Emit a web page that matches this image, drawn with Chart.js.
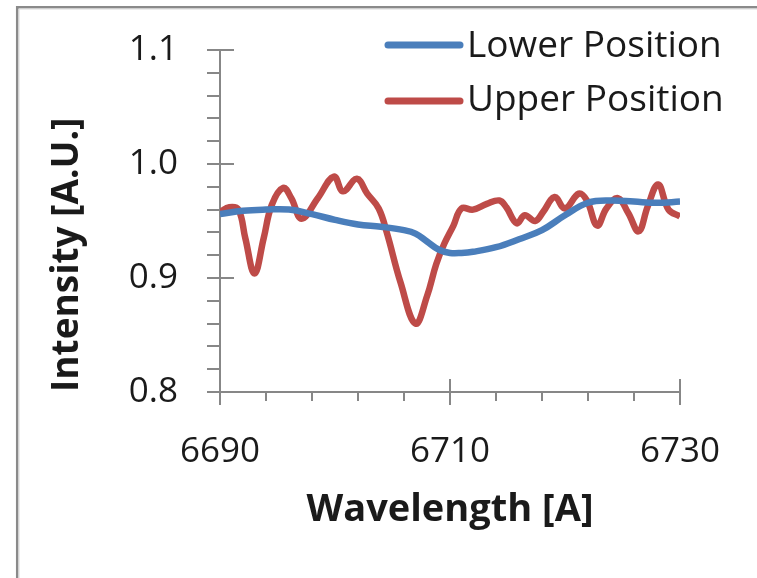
<!DOCTYPE html>
<html>
<head>
<meta charset="utf-8">
<script src="https://cdn.jsdelivr.net/npm/chart.js@4/dist/chart.umd.min.js"></script>
<style>
  html, body { margin: 0; padding: 0; background: #ffffff; }
  #wrap { width: 757px; height: 578px; }
</style>
</head>
<body>
<div id="wrap"><canvas id="chart" width="757" height="578"></canvas></div>
<script>
// Spectral profiles around the 6708 A line
const seriesNames = ['Lower Position', 'Upper Position'];
const seriesColors = ['#4a7ebb', '#be4b48'];

const lowerWavelength = [6690, 6692, 6694, 6696, 6698, 6700, 6702, 6704, 6706, 6707, 6708, 6709, 6710, 6711, 6712, 6714, 6716, 6718, 6720, 6722, 6724, 6726, 6728, 6730];
const lowerIntensity  = [0.956, 0.959, 0.960, 0.960, 0.956, 0.951, 0.947, 0.945, 0.942, 0.939, 0.932, 0.925, 0.922, 0.922, 0.923, 0.927, 0.934, 0.942, 0.955, 0.966, 0.968, 0.967, 0.966, 0.967];

const upperWavelength = [6690, 6690.8, 6691.6, 6692.2, 6693, 6693.8, 6694.5, 6695.5, 6696.2, 6697.1, 6698.5, 6699.9, 6700.7, 6701.9, 6702.8, 6703.8, 6704.5, 6705.7, 6707, 6708, 6708.8, 6709.5, 6710.3, 6711, 6712, 6713.2, 6714.3, 6714.9, 6715.8, 6716.5, 6717.4, 6718.1, 6719.1, 6720, 6721.2, 6721.9, 6722.8, 6723.6, 6724.6, 6725.5, 6726.4, 6727.2, 6728.1, 6729, 6730];
const upperIntensity  = [0.958, 0.962, 0.960, 0.935, 0.904, 0.935, 0.964, 0.979, 0.970, 0.952, 0.970, 0.989, 0.976, 0.987, 0.974, 0.961, 0.940, 0.896, 0.860, 0.884, 0.912, 0.930, 0.946, 0.961, 0.960, 0.965, 0.968, 0.962, 0.948, 0.955, 0.950, 0.958, 0.971, 0.961, 0.974, 0.968, 0.946, 0.961, 0.970, 0.957, 0.941, 0.963, 0.982, 0.960, 0.954];

// Axis ranges and tick spacing
const xRange = [6690, 6730];
const xMajorStep = 20;
const xMinorStep = 4;
const yRange = [0.8, 1.1];
const yMajorStep = 0.1;
const yMinorStep = 0.02;

const axisColor = '#878787';
const textColor = '#1a1a1a';
const fontFamily = '"Open Sans", Lato, sans-serif';

function toPoints(xs, ys) {
  return xs.map((x, i) => ({ x: x, y: ys[i] }));
}

// Frame, axis lines with tick marks, and the legend box
const decorations = {
  id: 'decorations',
  beforeDraw(chart) {
    const ctx = chart.ctx;
    ctx.save();
    ctx.fillStyle = '#ffffff';
    ctx.fillRect(0, 0, chart.width, chart.height);
    ctx.strokeStyle = '#8a8a8a';
    ctx.lineWidth = 2.5;
    ctx.beginPath();
    ctx.moveTo(17.2, chart.height);
    ctx.lineTo(17.2, 7.2);
    ctx.lineTo(chart.width, 7.2);
    ctx.stroke();
    ctx.strokeStyle = '#d9d9d9';
    ctx.lineWidth = 1;
    ctx.beginPath();
    ctx.moveTo(19, chart.height);
    ctx.lineTo(19, 9);
    ctx.lineTo(chart.width, 9);
    ctx.stroke();
    ctx.restore();
  },
  beforeDatasetsDraw(chart) {
    const ctx = chart.ctx;
    const xs = chart.scales.x;
    const ys = chart.scales.y;
    const left = xs.getPixelForValue(xRange[0]);
    const right = xs.getPixelForValue(xRange[1]);
    const bottom = ys.getPixelForValue(yRange[0]);
    const top = ys.getPixelForValue(yRange[1]);
    ctx.save();
    ctx.strokeStyle = axisColor;
    ctx.lineWidth = 2;
    ctx.beginPath();
    ctx.moveTo(left, top);
    ctx.lineTo(left, bottom);
    ctx.moveTo(left, bottom);
    ctx.lineTo(right, bottom);
    const nY = Math.round((yRange[1] - yRange[0]) / yMinorStep);
    const perY = Math.round(yMajorStep / yMinorStep);
    for (let i = 0; i <= nY; i++) {
      const py = Math.round(ys.getPixelForValue(yRange[0] + i * yMinorStep));
      ctx.moveTo(left - 13, py);
      ctx.lineTo(i % perY === 0 ? left + 14 : left, py);
    }
    const nX = Math.round((xRange[1] - xRange[0]) / xMinorStep);
    const perX = Math.round(xMajorStep / xMinorStep);
    for (let i = 0; i <= nX; i++) {
      const px = Math.round(xs.getPixelForValue(xRange[0] + i * xMinorStep));
      if (i % perX === 0) {
        ctx.moveTo(px, bottom - 13);
        ctx.lineTo(px, bottom + 13);
      } else {
        ctx.moveTo(px, bottom);
        ctx.lineTo(px, bottom + 9);
      }
    }
    ctx.stroke();
    ctx.restore();
  },
  afterDraw(chart) {
    const ctx = chart.ctx;
    ctx.save();
    const rows = [45, 101];
    const baselines = [57, 111];
    chart.data.datasets.forEach((ds, i) => {
      ctx.strokeStyle = ds.borderColor;
      ctx.lineWidth = 7;
      ctx.lineCap = 'round';
      ctx.beginPath();
      ctx.moveTo(388, rows[i]);
      ctx.lineTo(460, rows[i]);
      ctx.stroke();
      ctx.fillStyle = textColor;
      ctx.font = '37px ' + fontFamily;
      ctx.textBaseline = 'alphabetic';
      ctx.textAlign = 'left';
      ctx.fillText(ds.label, 467, baselines[i]);
    });
    ctx.restore();
  }
};

new Chart(document.getElementById('chart'), {
  type: 'line',
  data: {
    datasets: [
      {
        label: seriesNames[0],
        data: toPoints(lowerWavelength, lowerIntensity),
        borderColor: seriesColors[0],
        borderWidth: 6.5,
        pointRadius: 0,
        tension: 0.4,
        fill: false
      },
      {
        label: seriesNames[1],
        data: toPoints(upperWavelength, upperIntensity),
        borderColor: seriesColors[1],
        borderWidth: 6.5,
        pointRadius: 0,
        tension: 0.4,
        fill: false
      }
    ]
  },
  options: {
    responsive: false,
    animation: false,
    events: [],
    layout: { padding: { top: 50, right: 77, left: 0, bottom: 0 } },
    plugins: { legend: { display: false }, tooltip: { enabled: false } },
    scales: {
      x: {
        type: 'linear',
        min: xRange[0],
        max: xRange[1],
        grid: { display: false },
        border: { display: false },
        ticks: {
          stepSize: xMajorStep,
          autoSkip: false,
          maxRotation: 0,
          padding: 31,
          color: textColor,
          font: { family: fontFamily, size: 35 },
          callback: v => String(v)
        },
        title: {
          display: true,
          text: 'Wavelength [A]',
          color: textColor,
          font: { family: fontFamily, size: 38, weight: 'bold' },
          padding: { top: 0, bottom: 45 }
        },
        afterFit(scale) {
          scale.height = 186;
          scale.paddingLeft = 0;
          scale.paddingRight = 0;
        }
      },
      y: {
        type: 'linear',
        min: yRange[0],
        max: yRange[1],
        grid: { display: false },
        border: { display: false },
        ticks: {
          stepSize: yMajorStep,
          padding: 34,
          color: textColor,
          font: { family: fontFamily, size: 35 },
          callback: v => Number(v).toFixed(1)
        },
        title: {
          display: true,
          text: 'Intensity [A.U.]',
          align: 'start',
          color: textColor,
          font: { family: fontFamily, size: 37, weight: 'bold' },
          padding: { top: 45, bottom: 0 }
        },
        afterFit(scale) {
          scale.width = 220;
          scale.paddingTop = 0;
          scale.paddingBottom = 0;
        }
      }
    }
  },
  plugins: [decorations]
});
</script>
</body>
</html>
